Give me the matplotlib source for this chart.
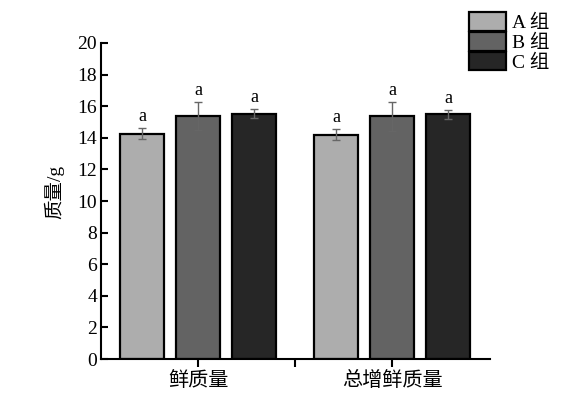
import matplotlib.pyplot as plt
import numpy as np
from matplotlib.ticker import FixedLocator

plt.rcParams['font.family'] = ['Liberation Serif', 'Noto Sans CJK SC', 'DejaVu Sans']

categorias = ['鲜质量', '总增鲜质量']
grupos = ['A 组', 'B 组', 'C 组']
valores = [
    [14.25, 14.20],   # A
    [15.38, 15.35],   # B
    [15.53, 15.50],   # C
]
errores = [
    [0.35, 0.35],
    [0.90, 0.90],
    [0.30, 0.28],
]
letras = [['a', 'a'], ['a', 'a'], ['a', 'a']]
colores = ['#adadad', '#636363', '#262626']

fig = plt.figure(figsize=(5.62, 3.97), dpi=100)
ax = fig.add_axes([0.18, 0.0957, 0.692, 0.796])

x = np.arange(len(categorias))
ancho = 0.227
paso = 0.289
for k in range(len(grupos)):
    pos = x + (k - 1) * paso
    ax.bar(pos, valores[k], ancho, color=colores[k], edgecolor='black',
           linewidth=1.6, label=grupos[k], zorder=2)
    ax.errorbar(pos, valores[k], yerr=errores[k], fmt='none', ecolor='#666666',
                elinewidth=1, capsize=3, capthick=1, zorder=3)
    for p, v, e, l in zip(pos, valores[k], errores[k], letras[k]):
        ax.text(p, v + e + 0.2, l, ha='center', va='bottom', fontsize=13)

ax.set_xlim(-0.5, 1.505)
ax.set_ylim(0, 20)
ax.set_yticks(np.arange(0, 21, 2))
ax.set_xticks(x)
ax.set_xticklabels(categorias, fontsize=14.5)
ax.xaxis.set_minor_locator(FixedLocator([0.5]))
ax.tick_params(axis='y', direction='in', length=5, width=1.5, labelsize=14, pad=3)
ax.tick_params(axis='x', which='both', direction='out', length=6, width=1.5, pad=3)
ax.spines['top'].set_visible(False)
ax.spines['right'].set_visible(False)
ax.spines['left'].set_linewidth(1.5)
ax.spines['bottom'].set_linewidth(1.5)
ax.set_ylabel('质量/g', fontsize=14)
ax.yaxis.set_label_coords(-0.095, 0.53)

ax.legend(loc='upper left', bbox_to_anchor=(0.835, 0.97), bbox_transform=fig.transFigure,
          frameon=False, fontsize=14, labelspacing=0, handlelength=1.9,
          handleheight=1.1, handletextpad=0.3, borderpad=0, borderaxespad=0)

fig.savefig('out.png', dpi=100)
